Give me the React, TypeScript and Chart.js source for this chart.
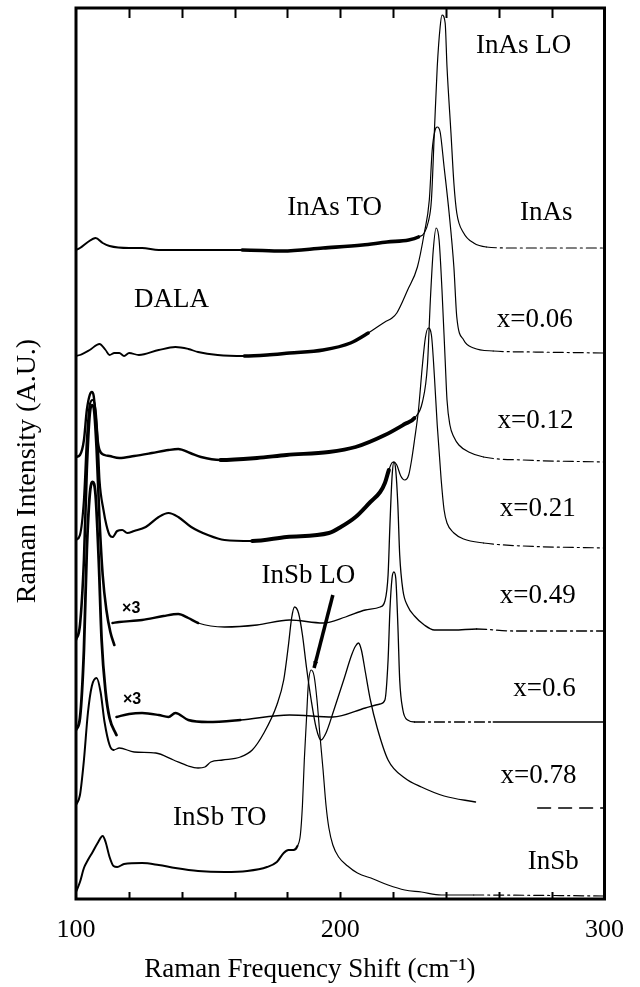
import React, { useEffect, useRef } from "react";
import { Chart, registerables } from "chart.js";

Chart.register(...registerables);

// ---- axis settings ----
const X_MIN = 100;
const X_MAX = 300;
const X_STEP = 20;
const X_TICK_LABELS = [100, 200, 300];
const Y_MIN = 0;
const Y_MAX = 89.1;
// trailing spaces only nudge the centred titles to where the original places them
const X_TITLE = "Raman Frequency Shift (cm\u207B\u00B9)" + "         ";
const Y_TITLE = "Raman Intensity (A.U.)" + "     ";

// ---- spectra: [Raman shift (cm-1), intensity (offset, a.u.)] ----
const inAs: [number, number][] = [
  [100, 64.9], [101.5, 65.1], [104.5, 65.7], [107.4, 66.1], [110.1, 65.6], [112.7, 65.3],
  [120.1, 65.1], [125, 65.1], [131.3, 64.9], [146.2, 64.9], [162.9, 64.9], [178.2, 64.8],
  [193.5, 65.1], [208.4, 65.4], [217.7, 65.7], [225.9, 65.9], [229.6, 66.2], [231.8, 66.6],
  [233.3, 67.7], [234.5, 69.9], [235.6, 76.6], [236.7, 83.2], [237.8, 87.2], [238.5, 88.4],
  [239.7, 87.6], [240.4, 83.2], [241.9, 76.6], [243, 71.6], [244.1, 68.6], [246.7, 66.6],
  [250.5, 65.6], [255.3, 65.2], [265.4, 65.1], [280.3, 65.1], [295.2, 65.1], [300, 65.1],
];

const x006: [number, number][] = [
  [100, 54.3], [101.5, 54.4], [105.2, 54.9], [108.9, 55.5], [111.2, 54.9], [112.7, 54.4],
  [114.5, 54.6], [116.4, 54.6], [118.2, 54.3], [120.1, 54.6], [123.8, 54.4], [131.3, 54.9],
  [137.6, 55.2], [142.5, 55.0], [146.2, 54.7], [153.6, 54.4], [163.7, 54.3], [172.3, 54.4],
  [180.8, 54.6], [193.5, 54.9], [203.9, 55.6], [210.6, 56.6], [216.9, 57.7], [219.6, 58.1],
  [221.4, 58.6], [225.5, 60.9], [229.2, 63.2], [231.8, 66.6], [233.7, 69.9], [234.8, 74.9],
  [235.9, 76.9], [236.7, 77.2], [237.8, 76.7], [239.3, 73.2], [241.2, 68.6], [243.0, 63.2],
  [244.1, 58.2], [246.7, 55.9], [250.5, 55.1], [257.9, 54.8], [272.8, 54.7], [300, 54.6],
];

const x012: [number, number][] = [
  [100, 44.2], [101.5, 44.4], [103.0, 45.9], [104.1, 48.9], [105.2, 50.4], [106.0, 50.7],
  [106.7, 50.3], [107.4, 48.4], [108.2, 45.9], [108.9, 44.9], [110.8, 44.4], [112.7, 44.3],
  [116.4, 44.1], [122.0, 44.3], [128.7, 44.6], [135.0, 44.9], [138.7, 45.0], [143.2, 44.6],
  [147.3, 44.2], [154.7, 43.9], [168.5, 44.1], [179.7, 44.4], [195.7, 44.7], [205.8, 45.2],
  [216.9, 46.4], [224.4, 47.5], [228.1, 48.1], [231.1, 49.7], [233.0, 53.4], [234.1, 59.9],
  [235.2, 64.9], [236.3, 67.1], [237.4, 65.9], [238.5, 60.9], [239.7, 53.9], [240.4, 49.9],
  [241.5, 47.4], [243.0, 46.2], [244.9, 45.4], [248.6, 44.7], [254.2, 44.2], [269.1, 43.9],
  [300, 43.7],
];

const x021: [number, number][] = [
  [100, 35.9], [101.5, 36.4], [103.0, 39.9], [104.1, 45.9], [105.2, 49.4], [106.3, 49.9],
  [107.4, 48.9], [108.2, 45.9], [108.9, 41.9], [110.4, 38.9], [111.5, 37.4], [112.7, 36.4],
  [113.8, 36.2], [115.6, 36.8], [117.5, 36.9], [119.4, 36.6], [122.0, 36.8], [126.4, 37.2],
  [131.3, 38.2], [135.0, 38.6], [138.7, 38.2], [143.6, 37.2], [149.9, 36.4], [156.2, 35.9],
  [166.7, 35.8], [179.7, 36.2], [195.7, 36.6], [200.2, 37.2], [205.8, 38.2], [211.4, 39.7],
  [215.1, 40.7], [216.9, 41.6], [218.4, 42.9], [219.5, 43.6], [220.3, 43.7], [221.4, 43.4],
  [222.9, 42.3], [224.4, 41.9], [225.9, 42.4], [227.0, 43.9], [228.1, 45.9], [229.6, 48.9],
  [231.1, 53.4], [232.2, 56.1], [233.3, 57.1], [234.5, 56.4], [235.6, 52.4], [236.7, 47.4],
  [238.2, 41.9], [239.3, 38.9], [240.4, 37.6], [243.0, 36.6], [246.7, 36.0], [254.2, 35.6],
  [269.1, 35.3], [300, 35.1],
];

const x049Dala: [number, number][] = [
  [100, 25.9], [101.5, 27.4], [103.0, 33.9], [104.1, 42.9], [105.2, 48.4], [106.0, 49.4],
  [106.7, 49.1], [107.8, 44.9], [108.9, 37.9], [110.1, 32.4], [111.5, 28.9], [113.0, 26.7],
  [114.5, 25.4],
];

const x049x3: [number, number][] = [
  [113.8, 27.6], [116.4, 27.7], [125.0, 27.9], [133.1, 28.3], [138.7, 28.5], [142.5, 28.1],
  [146.2, 27.6], [156.2, 27.2], [168.5, 27.4], [180.8, 27.9], [193.5, 27.6], [202.0, 28.2],
  [209.5, 28.9], [215.1, 29.2], [216.9, 29.8], [218.1, 32.4], [218.8, 37.4], [219.6, 42.2],
  [220.3, 43.7], [221.0, 42.9], [221.8, 39.4], [222.5, 34.4], [223.7, 30.9], [225.5, 29.3],
  [228.1, 28.3], [231.8, 27.4], [235.6, 26.9], [243.0, 26.9], [251.6, 27.0], [265.4, 26.8],
  [300, 26.8],
];

const x060Dala: [number, number][] = [
  [100, 16.9], [101.5, 18.1], [103.0, 24.9], [104.1, 34.9], [105.2, 40.4], [106.3, 41.7],
  [107.4, 40.4], [108.6, 33.9], [109.7, 25.9], [111.2, 20.7], [112.7, 18.1], [115.3, 16.4],
];

const x060x3: [number, number][] = [
  [115.3, 18.2], [120.1, 18.5], [125.0, 18.6], [131.3, 18.4], [135.0, 18.2], [137.6, 18.6],
  [142.5, 17.9], [149.9, 17.7], [162.2, 17.9], [180.8, 18.4], [197.2, 18.2], [209.5, 19.1],
  [215.1, 19.5], [216.9, 19.9], [218.1, 23.9], [218.8, 28.9], [219.6, 32.1], [220.3, 32.7],
  [221.0, 32.1], [221.8, 27.4], [222.5, 21.9], [223.7, 18.9], [225.5, 17.9], [228.1, 17.7],
  [257.9, 17.7], [300, 17.7],
];

const x078: [number, number | null][] = [
  [100, 9.4], [101.5, 10.4], [103.0, 13.9], [104.5, 18.6], [106.0, 21.3], [107.8, 22.1],
  [109.3, 20.7], [110.8, 17.7], [112.7, 15.4], [114.2, 14.9], [116.4, 15.1], [122.0, 14.7],
  [130.2, 14.6], [136.9, 13.9], [142.5, 13.3], [146.2, 13.1], [148.8, 13.2], [151.0, 13.7],
  [155.5, 13.9], [162.2, 14.2], [166.7, 14.9], [171.1, 16.6], [176.0, 19.4], [178.6, 21.9],
  [180.4, 25.4], [181.6, 28.1], [182.7, 29.2], [184.2, 28.6], [185.7, 26.4], [187.2, 23.2],
  [189.0, 19.9], [190.9, 17.1], [192.7, 15.9], [194.6, 16.6], [197.6, 18.9], [201.3, 21.9],
  [204.3, 24.4], [205.8, 25.3], [206.9, 25.6], [208.0, 24.9], [209.5, 22.7], [211.4, 19.9],
  [214.0, 17.1], [218.1, 13.9], [224.4, 12.1], [230.7, 11.2], [239.3, 10.3], [251.2, 9.7],
  [262, null], [274.7, 9.1], [300, 9.1],
];

const inSb: [number, number][] = [
  [100, 0.7], [101.5, 1.7], [103.0, 3.1], [104.5, 3.9], [106.3, 4.7], [108.2, 5.6],
  [110.1, 6.3], [111.2, 5.7], [112.7, 4.2], [114.2, 3.3], [115.6, 3.2], [118.2, 3.5],
  [125.0, 3.6], [131.3, 3.4], [137.6, 3.1], [146.2, 2.8], [156.2, 2.7], [164.8, 2.8],
  [172.3, 3.2], [176.0, 3.7], [178.6, 4.6], [180.4, 4.9], [182.3, 4.9], [183.8, 5.3],
  [184.9, 6.4], [185.7, 9.4], [186.4, 13.9], [187.2, 17.9], [187.9, 21.4], [189.0, 22.9],
  [190.1, 22.3], [191.2, 19.9], [192.3, 16.4], [193.5, 12.9], [194.6, 9.4], [195.7, 7.1],
  [197.2, 5.4], [199.4, 4.2], [202.8, 3.3], [206.5, 2.6], [212.5, 2.0], [218.1, 1.4],
  [224.4, 0.9], [230.7, 0.7], [238.2, 0.4], [250.5, 0.4], [300, 0.3],
];

// ---- text annotations (data coordinates) ----
const labelTexts = ["InAs LO", "InAs TO", "InAs", "DALA", "x=0.06", "x=0.12", "x=0.21", "x=0.49",
  "InSb LO", "x=0.6", "x=0.78", "InSb TO", "InSb"];
const labelX = [269.4, 197.9, 278.0, 136.1, 273.6, 273.9, 274.7, 274.7, 187.9, 277.3, 275.0, 154.4, 280.6];
const labelY = [85.3, 69.1, 68.6, 59.9, 57.9, 47.8, 39.0, 30.3, 32.3, 21.0, 12.3, 8.1, 3.7];
const scaleMarkX = [120.9, 121.2];
const scaleMarkY = [29.0, 19.9];
const arrowFrom = [197.2, 30.4];
const arrowTo = [190.1, 23.1];

// ---- line styles ----
type LineStyle = {
  base: number; thick: number; thickFrom: number; thickTo: number; thin: number; thinFrom: number;
  dashFrom: number; dashTo: number; dash: number[];
};
const DASH_DOT = [10, 4, 2, 4];
const LONG_DASH = [13, 8];
const styleList: { data: [number, number | null][]; st: LineStyle }[] = [
  { data: inAs, st: { base: 2, thick: 3.6, thickFrom: 162.9, thickTo: 226, thin: 1.2, thinFrom: 226, dashFrom: 255, dashTo: 999, dash: DASH_DOT } },
  { data: x006, st: { base: 1.8, thick: 3.4, thickFrom: 163.7, thickTo: 204, thin: 1.2, thinFrom: 204, dashFrom: 257, dashTo: 999, dash: DASH_DOT } },
  { data: x012, st: { base: 2.4, thick: 3.8, thickFrom: 154.7, thickTo: 228.1, thin: 1.2, thinFrom: 228.1, dashFrom: 254, dashTo: 999, dash: DASH_DOT } },
  { data: x021, st: { base: 2.2, thick: 4, thickFrom: 166, thickTo: 217, thin: 1.2, thinFrom: 217, dashFrom: 254, dashTo: 999, dash: DASH_DOT } },
  { data: x049Dala, st: { base: 2.6, thick: 2.6, thickFrom: 0, thickTo: 0, thin: 2.6, thinFrom: 999, dashFrom: 999, dashTo: 999, dash: DASH_DOT } },
  { data: x049x3, st: { base: 2.4, thick: 2.4, thickFrom: 0, thickTo: 0, thin: 1.3, thinFrom: 145, dashFrom: 250, dashTo: 999, dash: DASH_DOT } },
  { data: x060Dala, st: { base: 2.8, thick: 2.8, thickFrom: 0, thickTo: 0, thin: 2.8, thinFrom: 999, dashFrom: 999, dashTo: 999, dash: DASH_DOT } },
  { data: x060x3, st: { base: 2.4, thick: 2.4, thickFrom: 0, thickTo: 0, thin: 1.3, thinFrom: 150, dashFrom: 228, dashTo: 257, dash: DASH_DOT } },
  { data: x078, st: { base: 2, thick: 2, thickFrom: 0, thickTo: 0, thin: 1.3, thinFrom: 114, dashFrom: 262, dashTo: 999, dash: LONG_DASH } },
  { data: inSb, st: { base: 2, thick: 2, thickFrom: 0, thickTo: 0, thin: 1.2, thinFrom: 183, dashFrom: 240, dashTo: 999, dash: DASH_DOT } },
];

const SERIF = "'Liberation Serif', 'Times New Roman', serif";

function widthAt(st: LineStyle, x: number) {
  if (x >= st.thickFrom && x < st.thickTo) return st.thick;
  if (x >= st.thinFrom) return st.thin;
  return st.base;
}

const overlayPlugin = {
  id: "overlay",
  afterDatasetsDraw(chart: any) {
    const { ctx, chartArea: a, scales } = chart;
    const xs = scales.x;
    const ys = scales.y;
    ctx.save();
    ctx.strokeStyle = "#000";
    ctx.fillStyle = "#000";
    // frame
    ctx.lineWidth = 3;
    ctx.strokeRect(a.left, a.top, a.right - a.left, a.bottom - a.top);
    // inward tick marks (top and bottom)
    ctx.lineWidth = 2;
    xs.ticks.forEach((t: any) => {
      if (t.value <= X_MIN || t.value >= X_MAX) return;
      const px = Math.round(xs.getPixelForValue(t.value)) + 0.5;
      ctx.beginPath();
      ctx.moveTo(px, a.top);
      ctx.lineTo(px, a.top + 10);
      ctx.moveTo(px, a.bottom);
      ctx.lineTo(px, a.bottom - 7);
      ctx.stroke();
    });
    // labels
    ctx.font = `27px ${SERIF}`;
    ctx.textAlign = "center";
    ctx.textBaseline = "middle";
    labelTexts.forEach((txt, i) => {
      ctx.fillText(txt, xs.getPixelForValue(labelX[i]), ys.getPixelForValue(labelY[i]));
    });
    ctx.font = "bold 16px 'Liberation Sans', Arial, sans-serif";
    scaleMarkX.forEach((v, i) => {
      ctx.fillText("\u00D73", xs.getPixelForValue(v), ys.getPixelForValue(scaleMarkY[i]));
    });
    // arrow for InSb LO
    const x1 = xs.getPixelForValue(arrowFrom[0]);
    const y1 = ys.getPixelForValue(arrowFrom[1]);
    const x2 = xs.getPixelForValue(arrowTo[0]);
    const y2 = ys.getPixelForValue(arrowTo[1]);
    ctx.lineWidth = 3.5;
    ctx.beginPath();
    ctx.moveTo(x1, y1);
    ctx.lineTo(x2, y2);
    ctx.stroke();
    const ang = Math.atan2(y2 - y1, x2 - x1);
    ctx.beginPath();
    ctx.moveTo(x2, y2);
    ctx.lineTo(x2 - 7 * Math.cos(ang - 0.35), y2 - 7 * Math.sin(ang - 0.35));
    ctx.lineTo(x2 - 7 * Math.cos(ang + 0.35), y2 - 7 * Math.sin(ang + 0.35));
    ctx.closePath();
    ctx.fill();
    ctx.restore();
  },
};

export default function App() {
  const ref = useRef<HTMLCanvasElement | null>(null);
  useEffect(() => {
    if (!ref.current) return;
    const datasets = styleList.map((s, i) => ({
      label: String(i),
      data: s.data.map(([x, y]) => ({ x, y })),
      borderColor: "#000",
      borderWidth: s.st.base,
      pointRadius: 0,
      fill: false,
      spanGaps: false,
      cubicInterpolationMode: "monotone" as const,
      borderJoinStyle: "round" as const,
      borderCapStyle: "round" as const,
      segment: {
        borderWidth: (c: any) => widthAt(s.st, c.p0.parsed.x),
        borderDash: (c: any) => {
          const x = c.p0.parsed.x;
          return x >= s.st.dashFrom && x < s.st.dashTo ? s.st.dash : undefined;
        },
      },
    }));
    const chart = new Chart(ref.current, {
      type: "line",
      data: { datasets },
      options: {
        animation: false,
        responsive: false,
        devicePixelRatio: 1,
        layout: { padding: { top: 8, right: 27, bottom: 0, left: 0 } },
        plugins: { legend: { display: false }, tooltip: { enabled: false } },
        scales: {
          x: {
            type: "linear",
            min: X_MIN,
            max: X_MAX,
            grid: { display: false, drawTicks: false },
            border: { display: false },
            ticks: {
              stepSize: X_STEP,
              autoSkip: false,
              maxRotation: 0,
              padding: 16,
              color: "#000",
              font: { family: SERIF, size: 26 },
              callback: (v: any) => (X_TICK_LABELS.includes(Number(v)) ? String(v) : ""),
            },
            title: {
              display: true,
              text: X_TITLE,
              color: "#000",
              font: { family: SERIF, size: 27 },
              padding: { top: 0, bottom: 1 },
            },
            afterFit: (s: any) => { s.height = 88; },
          },
          y: {
            type: "linear",
            min: Y_MIN,
            max: Y_MAX,
            grid: { display: false, drawTicks: false },
            border: { display: false },
            ticks: { display: false },
            title: {
              display: true,
              text: Y_TITLE,
              color: "#000",
              font: { family: SERIF, size: 28 },
              padding: { top: 11, bottom: 0 },
            },
            afterFit: (s: any) => { s.width = 76; },
          },
        },
      },
      plugins: [overlayPlugin],
    });
    return () => chart.destroy();
  }, []);
  return (
    <div style={{ position: "fixed", left: 0, top: 0, width: 640, height: 987, background: "#fff" }}>
      <canvas ref={ref} width={640} height={987} style={{ display: "block" }} />
    </div>
  );
}
